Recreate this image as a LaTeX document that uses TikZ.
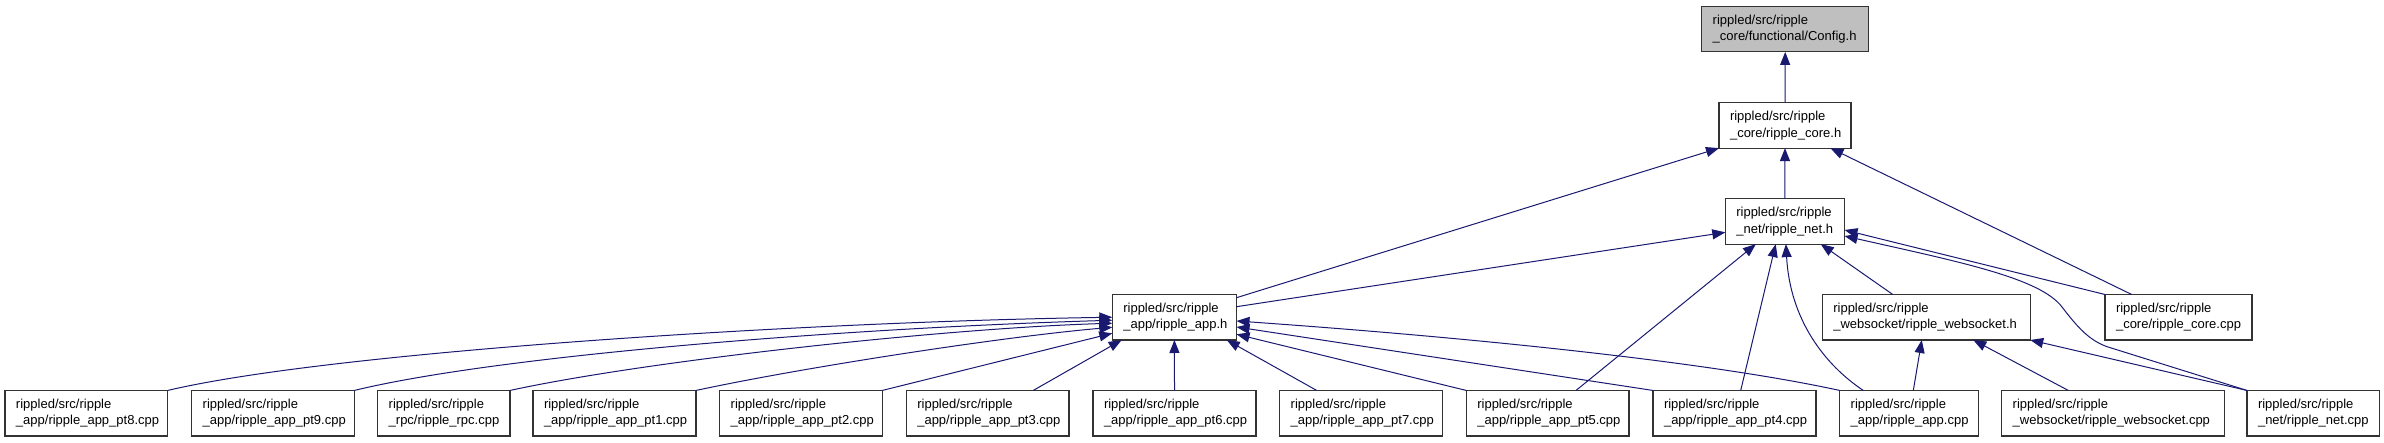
\documentclass[tikz,border=0pt]{standalone}
\usepackage{fontspec}
\setmainfont{Liberation Sans}
\usetikzlibrary{arrows.meta,calc}
\definecolor{edgeblue}{RGB}{25,25,112}
\definecolor{rootgray}{RGB}{191,191,191}
\newcommand{\twoline}[2]{\mbox{#1}\\\mbox{#2}}
\begin{document}
\begin{tikzpicture}[x=1pt,y=-1pt,
  filebox/.style={draw=black!80, line width=1.1pt, fill=white, rectangle,
    minimum height=45.5pt, inner xsep=11pt, inner ysep=0pt, outer sep=0pt,
    align=left, text width=#1, font=\fontsize{13}{16.7}\selectfont},
  edge/.style={draw=edgeblue, line width=1pt, -{Triangle[length=13pt,width=10pt]}}]
\useasboundingbox (0,0) rectangle (2384,443);

% top rows
\node[filebox=145pt, fill=rootgray] (config) at (1785.2,29.2) {\twoline{rippled/src/ripple}{\_core/functional/Config.h}};
\node[filebox=110pt] (core) at (1785,125.35) {\twoline{rippled/src/ripple}{\_core/ripple\_core.h}};
\node[filebox=97.2pt] (net) at (1784.9,221.35) {\twoline{rippled/src/ripple}{\_net/ripple\_net.h}};
\node[filebox=102.2pt] (app) at (1174.4,317.25) {\twoline{rippled/src/ripple}{\_app/ripple\_app.h}};
\node[filebox=185.9pt] (ws) at (1926.25,317.25) {\twoline{rippled/src/ripple}{\_websocket/ripple\_websocket.h}};
\node[filebox=125pt] (corecpp) at (2178.5,317.25) {\twoline{rippled/src/ripple}{\_core/ripple\_core.cpp}};

% bottom row
\node[filebox=140.7pt] (pt8) at (86.35,413.2) {\twoline{rippled/src/ripple}{\_app/ripple\_app\_pt8.cpp}};
\node[filebox=140.6pt] (pt9) at (273,413.2) {\twoline{rippled/src/ripple}{\_app/ripple\_app\_pt9.cpp}};
\node[filebox=110.3pt] (rpc) at (443.85,413.2) {\twoline{rippled/src/ripple}{\_rpc/ripple\_rpc.cpp}};
\node[filebox=141pt] (pt1) at (614.5,413.2) {\twoline{rippled/src/ripple}{\_app/ripple\_app\_pt1.cpp}};
\node[filebox=140.6pt] (pt2) at (801,413.2) {\twoline{rippled/src/ripple}{\_app/ripple\_app\_pt2.cpp}};
\node[filebox=140.7pt] (pt3) at (987.65,413.2) {\twoline{rippled/src/ripple}{\_app/ripple\_app\_pt3.cpp}};
\node[filebox=141pt] (pt6) at (1174.5,413.2) {\twoline{rippled/src/ripple}{\_app/ripple\_app\_pt6.cpp}};
\node[filebox=140.6pt] (pt7) at (1361,413.2) {\twoline{rippled/src/ripple}{\_app/ripple\_app\_pt7.cpp}};
\node[filebox=140.7pt] (pt5) at (1547.65,413.2) {\twoline{rippled/src/ripple}{\_app/ripple\_app\_pt5.cpp}};
\node[filebox=141pt] (pt4) at (1734.5,413.2) {\twoline{rippled/src/ripple}{\_app/ripple\_app\_pt4.cpp}};
\node[filebox=117pt] (appcpp) at (1909.2,413.2) {\twoline{rippled/src/ripple}{\_app/ripple\_app.cpp}};
\node[filebox=200.6pt] (wscpp) at (2113,413.2) {\twoline{rippled/src/ripple}{\_websocket/ripple\_websocket.cpp}};
\node[filebox=110.3pt] (netcpp) at (2313.15,413.2) {\twoline{rippled/src/ripple}{\_net/ripple\_net.cpp}};

% edges to Config.h and ripple_core.h
\draw[edge] (core.north) -- (config.south);
\draw[edge] (net.north) -- (core.south);
\draw[edge] ($(app.north east)+(0,3.2)$) -- (core.south west);
\draw[edge] ($(corecpp.north)+(-46.8,0)$) -- ($(core.south)+(45.4,0)$);

% edges to ripple_net.h
\draw[edge] ($(app.north east)+(0,12.2)$) -- ($(net.west)+(0,11)$);
\draw[edge] ($(ws.north)+(-33.5,0)$) -- ($(net.south)+(35.8,0)$);
\draw[edge] ($(pt5.north)+(28.35,0)$) -- ($(net.south)+(-29,0)$);
\draw[edge] ($(pt4.north)+(6.2,0)$) -- ($(net.south)+(-9.2,0)$);
\draw[edge] ($(appcpp.north)+(-45.9,0)$) .. controls (1825,365) and (1790,320) .. ($(net.south)+(1,0)$);
\draw[edge] (corecpp.north west) -- ($(net.east)+(0,8.65)$);
\draw[edge] (netcpp.north west) -- (2108,347) .. controls (2090,341) and (2078,328) .. (2062,307) .. controls (2040,278) and (1960,262) .. ($(net.east)+(0,14.65)$);

% edges to ripple_websocket.h
\draw[edge] (netcpp.north west) -- (ws.south east);
\draw[edge] ($(wscpp.north)+(-44.7,0)$) -- ($(ws.south)+(47,0)$);
\draw[edge] ($(appcpp.north)+(4.1,0)$) -- ($(ws.south)+(-4.5,0)$);

% edges to ripple_app.h
\draw[edge] (pt8.north east) .. controls (330,352) and (800,322) .. (app.west);
\draw[edge] (pt9.north east) .. controls (500,355) and (850,328) .. ($(app.west)+(0,3)$);
\draw[edge] (rpc.north east) .. controls (650,360) and (950,328) .. ($(app.west)+(0,6)$);
\draw[edge] (pt1.north east) .. controls (800,368) and (1000,337) .. ($(app.west)+(0,10)$);
\draw[edge] (pt2.north east) -- ($(app.west)+(0,16)$);
\draw[edge] ($(pt3.north)+(45.6,0)$) -- ($(app.south west)+(9.4,0)$);
\draw[edge] (pt6.north) -- (app.south);
\draw[edge] ($(pt7.north)+(-44.3,0)$) -- ($(app.south east)+(-9.8,0)$);
\draw[edge] (pt5.north west) -- ($(app.east)+(0,17)$);
\draw[edge] (pt4.north west) -- ($(app.east)+(0,9.75)$);
\draw[edge] (appcpp.north west) .. controls (1700,360) and (1450,336) .. ($(app.east)+(0,3.75)$);
\end{tikzpicture}
\end{document}
